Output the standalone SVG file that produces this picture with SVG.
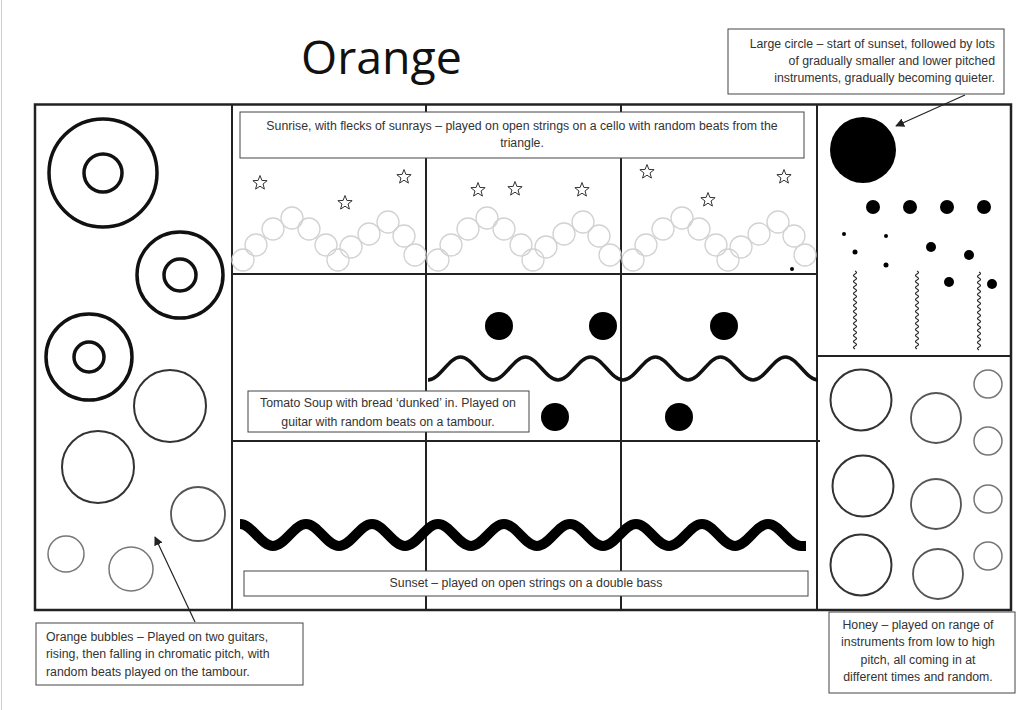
<svg xmlns="http://www.w3.org/2000/svg" width="1024" height="710" viewBox="0 0 1024 710">
<style>
.frame{fill:none;stroke:#222;stroke-width:2.5}
.div{fill:none;stroke:#222;stroke-width:2}
.box{fill:#fff;stroke:#444;stroke-width:1}
.t{font-family:"Liberation Sans",Arial,sans-serif;font-size:12.3px;fill:#333}
.mid{text-anchor:middle}
.end{text-anchor:end}
.ring{fill:none;stroke:#111;stroke-width:3.5}
.c2{fill:none;stroke:#333;stroke-width:2}
.c3{fill:none;stroke:#555;stroke-width:1.8}
.c4{fill:none;stroke:#777;stroke-width:1.5}
.bub{fill:none;stroke:#d2d2d2;stroke-width:1.3}
.star{fill:#fff;stroke:#333;stroke-width:1}
.dot{fill:#000}
.sq{fill:none;stroke:#222;stroke-width:1.2}
.arrow{fill:none;stroke:#222;stroke-width:1.2;marker-end:url(#ah)}
</style>
<defs>
<marker id="ah" viewBox="0 0 10 10" refX="9" refY="5" markerWidth="9" markerHeight="9" markerUnits="userSpaceOnUse" orient="auto">
<path d="M0,0 L10,5 L0,10 z" fill="#222"/>
</marker>
<path id="starp" class="star" d="M0,-7.5 L1.88,-2.59 L7.13,-2.32 L3.04,0.99 L4.41,6.07 L0,3.2 L-4.41,6.07 L-3.04,0.99 L-7.13,-2.32 L-1.88,-2.59 Z"/>
<g id="bubbles">
<circle class="bub" cx="243" cy="260" r="11"/>
<circle class="bub" cx="256" cy="245" r="11"/>
<circle class="bub" cx="273" cy="229" r="11"/>
<circle class="bub" cx="292" cy="218" r="11"/>
<circle class="bub" cx="309" cy="229" r="11"/>
<circle class="bub" cx="326" cy="245" r="11"/>
<circle class="bub" cx="338" cy="260" r="11"/>
<circle class="bub" cx="351" cy="247" r="11"/>
<circle class="bub" cx="369" cy="234" r="11"/>
<circle class="bub" cx="388" cy="222" r="11"/>
<circle class="bub" cx="404" cy="236" r="11"/>
<circle class="bub" cx="415" cy="255" r="11"/>
</g>
<path id="squig" class="sq" d="M0,0 q3,1.5 0,3 q-3,1.5 0,3 q3,1.5 0,3 q-3,1.5 0,3 q3,1.5 0,3 q-3,1.5 0,3 q3,1.5 0,3 q-3,1.5 0,3 q3,1.5 0,3 q-3,1.5 0,3 q3,1.5 0,3 q-3,1.5 0,3 q3,1.5 0,3 q-3,1.5 0,3 q3,1.5 0,3 q-3,1.5 0,3 q3,1.5 0,3 q-3,1.5 0,3 q3,1.5 0,3 q-3,1.5 0,3 q3,1.5 0,3 q-3,1.5 0,3 q3,1.5 0,3 q-3,1.5 0,3 q3,1.5 0,3 q-3,1.5 0,3"/>
</defs>
<rect width="1024" height="710" fill="#fff"/>
<line x1="1.5" y1="0" x2="1.5" y2="710" stroke="#ccc" stroke-width="1"/>

<g id="title">
<text x="301" y="74" style="font-family:'Open Sans','Liberation Sans',sans-serif;font-size:46.5px;fill:#111">Orange</text>
</g>

<g id="grid">
<rect class="frame" x="35" y="104.5" width="976" height="505.5"/>
<line class="div" x1="232" y1="104.5" x2="232" y2="610"/>
<line class="div" x1="426" y1="104.5" x2="426" y2="610"/>
<line class="div" x1="621" y1="104.5" x2="621" y2="610"/>
<line class="div" x1="817" y1="104.5" x2="817" y2="610"/>
<line class="div" x1="232" y1="274" x2="817" y2="274"/>
<line class="div" x1="232" y1="441" x2="820" y2="441"/>
<line class="div" x1="817" y1="356" x2="1011" y2="356"/>
</g>

<g id="orange-bubbles-art">
<circle class="ring" cx="103" cy="173" r="54"/>
<circle class="ring" cx="103" cy="173" r="19"/>
<circle class="ring" cx="180" cy="275" r="43"/>
<circle class="ring" cx="180" cy="275" r="16"/>
<circle class="ring" cx="89" cy="357" r="43"/>
<circle class="ring" cx="89" cy="357" r="15"/>
<circle class="c2" cx="170" cy="406" r="36"/>
<circle class="c2" cx="98" cy="467" r="36"/>
<circle class="c3" cx="198" cy="514" r="27"/>
<circle class="c4" cx="66" cy="554" r="18"/>
<circle class="c4" cx="131" cy="569" r="22"/>
</g>

<g id="sunrise-art">
<use href="#bubbles"/>
<use href="#bubbles" transform="translate(195,0)"/>
<use href="#bubbles" transform="translate(390,0)"/>
<use href="#starp" transform="translate(260,183)"/>
<use href="#starp" transform="translate(404,177)"/>
<use href="#starp" transform="translate(345,203)"/>
<use href="#starp" transform="translate(478,190)"/>
<use href="#starp" transform="translate(515,189)"/>
<use href="#starp" transform="translate(582,190)"/>
<use href="#starp" transform="translate(647,172)"/>
<use href="#starp" transform="translate(708,200)"/>
<use href="#starp" transform="translate(784,177)"/>
<circle class="dot" cx="792" cy="269" r="2"/>
</g>

<g id="tomato-soup-art">
<circle class="dot" cx="499" cy="326" r="14"/>
<circle class="dot" cx="603" cy="326" r="14"/>
<circle class="dot" cx="724" cy="326" r="14"/>
<circle class="dot" cx="555" cy="417" r="14"/>
<circle class="dot" cx="679" cy="417" r="14"/>
<path fill="none" stroke="#111" stroke-width="3.5" d="M428,380 C439.8,380 448.7,357 460.5,357 S481.2,380 493,380 S513.7,357 525.5,357 S546.2,380 558,380 S578.7,357 590.5,357 S611.2,380 623,380 S643.7,357 655.5,357 S676.2,380 688,380 S708.7,357 720.5,357 S741.2,380 753,380 S773.7,357 785.5,357 S806.2,380 818,380"/>
</g>

<g id="sunset-art">
<path fill="none" stroke="#000" stroke-width="10" d="M240,524 C252,524 261,546 273,546 S294,524 306,524 S327,546 339,546 S360,524 372,524 S393,546 405,546 S426,524 438,524 S459,546 471,546 S492,524 504,524 S525,546 537,546 S558,524 570,524 S591,546 603,546 S624,524 636,524 S657,546 669,546 S690,524 702,524 S723,546 735,546 S756,524 768,524 S789,546 801,546 L806,546"/>
</g>

<g id="large-circle-art">
<circle class="dot" cx="863" cy="150" r="33"/>
<circle class="dot" cx="873" cy="207" r="7"/>
<circle class="dot" cx="910" cy="207" r="7"/>
<circle class="dot" cx="947" cy="207" r="7"/>
<circle class="dot" cx="984" cy="207" r="7"/>
<circle class="dot" cx="844" cy="234" r="2"/>
<circle class="dot" cx="886" cy="236" r="2"/>
<circle class="dot" cx="855" cy="252" r="2.5"/>
<circle class="dot" cx="886" cy="265" r="2.5"/>
<circle class="dot" cx="931" cy="247" r="5"/>
<circle class="dot" cx="969" cy="255" r="5"/>
<circle class="dot" cx="949" cy="282" r="5"/>
<circle class="dot" cx="992" cy="284" r="5"/>
<use href="#squig" transform="translate(855,271)"/>
<use href="#squig" transform="translate(917,271)"/>
<use href="#squig" transform="translate(979,272)"/>
</g>

<g id="honey-art">
<circle class="c2" cx="861" cy="400" r="30.5"/>
<circle class="c2" cx="863" cy="486" r="30.5"/>
<circle class="c2" cx="861" cy="565" r="30.5"/>
<circle class="c3" cx="936" cy="418" r="25"/>
<circle class="c3" cx="936" cy="504" r="25"/>
<circle class="c3" cx="938" cy="574" r="25"/>
<circle class="c4" cx="988" cy="384" r="14"/>
<circle class="c4" cx="988" cy="441" r="14"/>
<circle class="c4" cx="988" cy="499" r="14"/>
<circle class="c4" cx="988" cy="556" r="14"/>
</g>

<g id="connectors">
<line class="arrow" x1="965" y1="95" x2="896" y2="126"/>
<line class="arrow" x1="195" y1="622" x2="155" y2="537"/>
</g>

<g id="label-sunrise">
<rect class="box" x="240" y="112" width="564" height="46"/>
<text class="t mid" x="522" y="129.5">Sunrise, with flecks of sunrays – played on open strings on a cello with random beats from the</text>
<text class="t mid" x="522" y="147">triangle.</text>
</g>

<g id="label-tomato">
<rect class="box" x="248" y="391" width="281" height="41"/>
<text class="t mid" x="388" y="407">Tomato Soup with bread ‘dunked’ in. Played on</text>
<text class="t mid" x="388" y="426">guitar with random beats on a tambour.</text>
</g>

<g id="label-sunset">
<rect class="box" x="244" y="571" width="564" height="25"/>
<text class="t mid" x="526" y="587">Sunset – played on open strings on a double bass</text>
</g>

<g id="label-large-circle">
<rect class="box" x="728" y="29" width="276" height="65"/>
<text class="t end" x="995" y="48">Large circle – start of sunset, followed by lots</text>
<text class="t end" x="995" y="65">of gradually smaller and lower pitched</text>
<text class="t end" x="995" y="82">instruments, gradually becoming quieter.</text>
</g>

<g id="label-orange-bubbles">
<rect class="box" x="36" y="623" width="267" height="62"/>
<text class="t" x="46" y="641">Orange bubbles – Played on two guitars,</text>
<text class="t" x="46" y="658">rising, then falling in chromatic pitch, with</text>
<text class="t" x="46" y="676">random beats played on the tambour.</text>
</g>

<g id="label-honey">
<rect class="box" x="829" y="612" width="186" height="81"/>
<text class="t mid" x="918" y="629">Honey – played on range of</text>
<text class="t mid" x="918" y="646">instruments from low to high</text>
<text class="t mid" x="918" y="664">pitch, all coming in at</text>
<text class="t mid" x="918" y="681">different times and random.</text>
</g>
</svg>
